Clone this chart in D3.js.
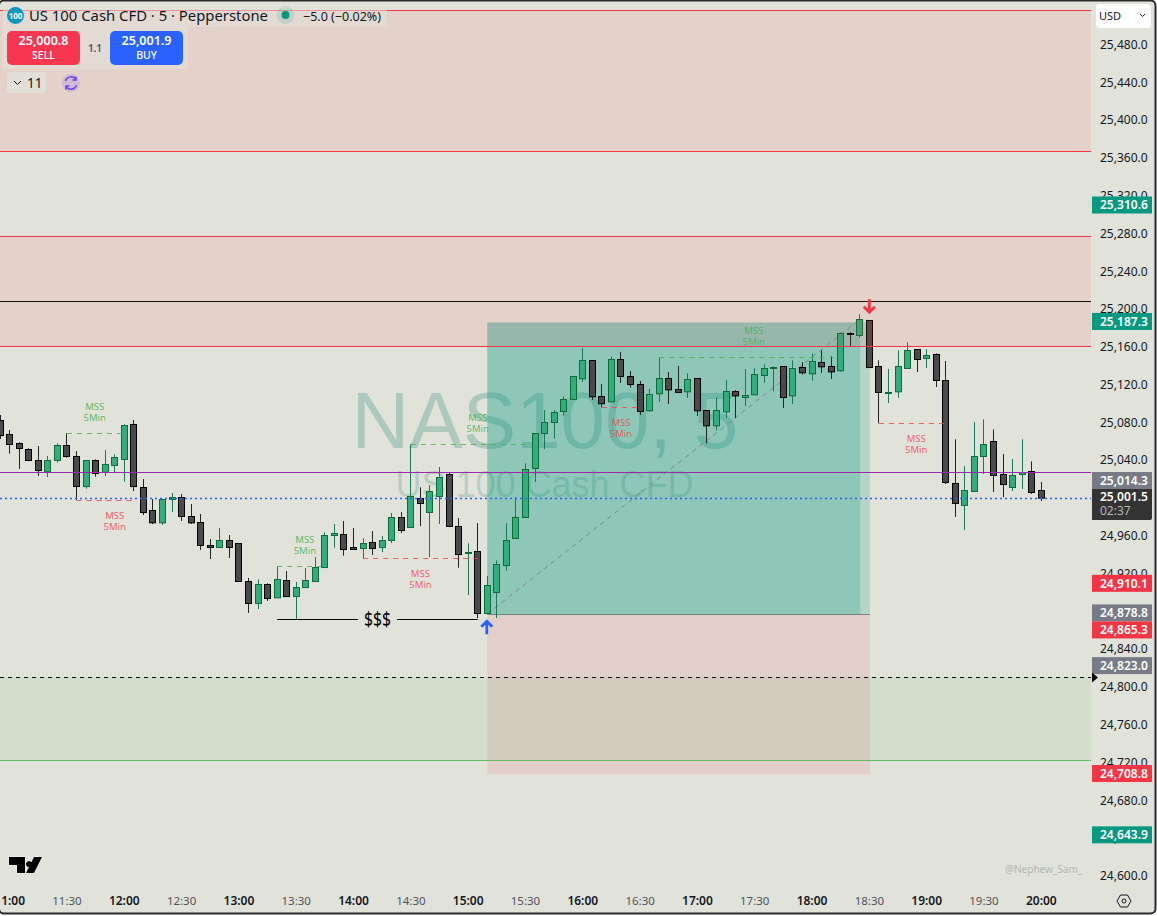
<!DOCTYPE html>
<html>
<head>
<meta charset="utf-8">
<title>NAS100 5</title>
<script src="https://cdn.jsdelivr.net/npm/d3@7/dist/d3.min.js"></script>
<style>
  body { margin: 0; background: #fff; }
  text { font-family: "Noto Sans", sans-serif; }
</style>
</head>
<body>
<div id="chart"></div>
<script>
// candles, one per 5 minutes, first bar is 10:55
var opens = [
  25083.7,25068.9,25059.4,25053.0,25041.4,25029.4,25041.4,25057.2,25045.6,25013.8,
  25041.4,25028.7,25036.1,25042.4,25079.5,25012.8,24988.4,24975.4,25000.1,25002.2,
  24982.1,24975.7,24951.4,24949.3,24956.7,24953.5,24913.3,24890.0,24910.1,24896.0,
  24914.4,24897.4,24906.9,24913.3,24928.1,24962.0,24963.0,24949.2,24948.2,24954.5,
  24949.2,24956.7,24981.0,24970.4,25001.1,24986.3,25003.2,25026.5,24971.5,24943.6,
  24945.0,24879.4,24901.6,24930.2,24958.8,24981.0,25032.9,25069.9,25081.6,25093.3,
  25106.0,25127.8,25147.2,25109.1,25103.5,25148.3,25130.3,25121.8,25094.0,25112.0,
  25128.2,25116.5,25114.1,25128.2,25094.3,25078.1,25092.9,25114.4,25108.1,25110.9,
  25131.4,25138.8,25140.9,25109.8,25139.8,25133.1,25145.1,25140.9,25136.3,25175.8,
  25173.7,25189.6,25140.9,25113.0,25114.1,25138.8,25158.9,25149.4,25153.6,25126.1,
  25017.0,24993.8,25008.6,25045.6,25061.5,25026.6,25012.8,25026.6,25029.7,25009.6];
var highs = [
  25089.4,25073.5,25060.4,25054.1,25056.5,25046.0,25059.4,25069.9,25051.2,25041.4,
  25042.4,25052.3,25047.7,25079.5,25084.1,25021.6,25000.4,25000.1,25006.8,25005.7,
  24995.1,24984.6,24958.1,24969.7,24962.3,24953.5,24916.8,24915.4,24911.2,24929.2,
  24924.2,24912.6,24927.4,24939.0,24965.2,24974.0,24977.1,24969.7,24958.8,24966.5,
  24961.2,24985.6,24986.7,25058.3,25012.8,25015.2,25034.3,25028.3,24980.3,24953.5,
  24975.0,24918.9,24935.5,24975.0,25002.2,25038.2,25069.9,25094.6,25094.7,25109.1,
  25130.3,25160.3,25147.2,25122.2,25151.1,25156.1,25135.9,25125.4,25116.9,25150.4,
  25134.9,25141.2,25133.5,25128.2,25094.3,25108.1,25126.4,25115.8,25138.1,25138.8,
  25143.0,25140.9,25140.9,25147.2,25145.1,25154.6,25157.8,25151.5,25176.9,25176.9,
  25195.9,25189.6,25147.2,25138.1,25157.8,25166.3,25158.9,25158.9,25154.6,25146.5,
  25063.6,25035.0,25082.0,25084.8,25074.2,25048.1,25042.8,25063.6,25040.3,25018.5];
var lows = [
  25063.9,25048.4,25032.2,25041.4,25024.8,25023.7,25038.9,25044.2,24999.4,25011.4,
  25024.1,25024.8,25028.7,25018.8,25008.9,24983.5,24974.0,24972.9,24986.7,24977.2,
  24974.0,24946.5,24936.9,24949.3,24938.0,24913.3,24879.8,24884.0,24892.5,24896.0,
  24897.1,24872.4,24906.9,24913.3,24928.1,24948.9,24940.4,24946.4,24937.6,24941.1,
  24944.3,24953.8,24964.4,24970.1,24971.8,24939.0,24973.9,24971.1,24927.7,24898.8,
  24874.4,24879.4,24874.4,24924.6,24958.1,24981.0,25018.4,25053.3,25064.3,25088.7,
  25105.3,25124.3,25105.3,25097.5,25103.5,25123.2,25118.3,25089.4,25092.9,25103.1,
  25101.0,25113.4,25107.4,25088.3,25059.4,25073.1,25086.2,25086.2,25098.9,25110.5,
  25123.2,25114.4,25096.8,25101.0,25132.1,25125.4,25133.8,25127.5,25135.2,25162.1,
  25171.6,25139.8,25080.6,25102.1,25107.4,25138.8,25134.9,25139.1,25119.0,25016.3,
  24981.4,24967.6,25008.6,25026.9,25007.9,25002.2,25008.9,25011.0,25005.8,24998.3];
var closes = [
  25067.8,25058.3,25054.1,25041.4,25030.8,25041.4,25057.2,25045.6,25013.8,25041.4,
  25027.6,25037.1,25044.5,25078.4,25013.8,24986.3,24975.4,25000.1,25002.2,24982.1,
  24975.4,24951.4,24949.3,24956.7,24949.3,24913.3,24890.0,24910.1,24895.3,24915.4,
  24897.4,24906.9,24914.4,24928.1,24962.0,24964.1,24947.1,24947.1,24953.5,24948.2,
  24956.7,24981.0,24967.2,25003.2,24995.8,25008.5,25023.3,24971.5,24941.8,24944.3,
  24879.4,24909.0,24931.3,24956.7,24981.0,25031.8,25069.9,25081.6,25092.2,25106.0,
  25130.3,25147.2,25108.8,25101.4,25148.3,25130.3,25121.8,25093.3,25111.2,25128.2,
  25116.2,25113.4,25127.1,25094.0,25078.1,25094.3,25114.4,25109.8,25110.2,25132.4,
  25138.8,25139.8,25108.1,25138.8,25134.2,25146.2,25140.5,25135.2,25175.8,25174.8,
  25190.6,25139.8,25113.4,25113.7,25140.9,25157.8,25148.3,25152.5,25126.1,25018.1,
  24995.9,25009.6,25045.6,25058.3,25025.5,25016.0,25025.5,25028.7,25007.5,25001.5];

// axis labels
var priceTicks = d3.range(24600, 25481, 40);
var timeLabels = ["11:00","11:30","12:00","12:30","13:00","13:30","14:00","14:30","15:00","15:30","16:00","16:30","17:00","17:30","18:00","18:30","19:00","19:30","20:00"];

// price levels drawn by hand on the chart
var redZones = [[25518, 25368.8], [25278.8, 25162.4]];
var greenZone = [24812, 24724];
var blackLevel = 25210;
var purpleLevel = 25028.5;
var lastPrice = 25001.5;

// long position: entry, target, stop, first bar, last bar, bar the target hit
var posEntry = 24878.8, posTarget = 25187.3, posStop = 24708.8;
var posStart = 51, posEnd = 91, posHit = 90;

// MSS markers
var mssStart = [7, 29, 43, 69, 8, 38, 63, 92];
var mssEnd = [13, 34, 55, 88, 14, 50, 67, 99];
var mssLabelBar = [9.9, 31.9, 50, 78.9, 12, 44, 65, 95.9];
var mssPrice = [25069.9, 24929.2, 25058.3, 25150.4, 24999.4, 24937.6, 25097.5, 25080.6];
var mssSide = ["up","up","up","up","down","down","down","down"];

// price scale labels
var tagPrices = [25310.6, 25187.3, 25014.3, 24910.1, 24878.8, 24865.3, 24823.0, 24708.8, 24643.9];
var tagKinds = ["g","g","s","r","s","r","s","r","g"];
var tagColors = { g: "#089981", r: "#f23645", s: "#787b86" };

var width = 1157, height = 916, plotRight = 1091, plotBottom = 888;

var x = d3.scaleLinear().domain([0, 109]).range([0.1, 1041.3]);
var y = d3.scaleLinear().domain([25480, 24600]).range([45.95, 877.3]);
var sharp = function(v) { return Math.floor(v) + 0.5; };
var sharpY = function(p) { return Math.round(y(p)) + 0.5; };

var svg = d3.select("#chart").append("svg").attr("width", width).attr("height", height).style("display", "block");
var defs = svg.append("defs");
defs.append("clipPath").attr("id", "plot").append("rect").attr("width", plotRight).attr("height", plotBottom);

// page colour inside the rounded window
svg.append("rect").attr("x", -1).attr("y", 0.5).attr("width", 1156.5).attr("height", 913).attr("rx", 5).attr("fill", "#e1e2da");

var plot = svg.append("g").attr("clip-path", "url(#plot)");

// watermark
plot.append("text").attr("x", 545).attr("y", 448).attr("text-anchor", "middle")
  .style("font-family", "Liberation Sans").style("font-size", "80px").attr("fill", "rgba(8,120,100,.24)").text("NAS100, 5");
plot.append("text").attr("x", 544.5).attr("y", 497).attr("text-anchor", "middle")
  .style("font-family", "Liberation Sans").style("font-size", "36px").attr("fill", "rgba(8,120,100,.2)").text("US 100 Cash CFD");

// position box
var boxLeft = x(posStart), boxRight = x(posEnd) + 0.5, hitRight = x(posHit) + 0.5;
plot.append("rect").attr("x", boxLeft).attr("width", boxRight - boxLeft)
  .attr("y", y(posEntry)).attr("height", y(posStop) - y(posEntry)).attr("fill", "rgba(242,54,69,.11)");
plot.append("rect").attr("x", boxLeft).attr("width", boxRight - boxLeft)
  .attr("y", y(posTarget)).attr("height", y(posEntry) - y(posTarget)).attr("fill", "rgba(8,153,129,.19)");
plot.append("rect").attr("x", boxLeft).attr("width", hitRight - boxLeft)
  .attr("y", y(posTarget)).attr("height", y(posEntry) - y(posTarget)).attr("fill", "rgba(8,153,129,.24)");
plot.append("line").attr("x1", boxLeft).attr("x2", boxRight).attr("y1", sharpY(posEntry)).attr("y2", sharpY(posEntry)).attr("stroke", "#74857f");
plot.append("line").attr("x1", boxLeft).attr("x2", x(posHit)).attr("y1", y(posEntry)).attr("y2", y(posTarget) - 3)
  .attr("stroke", "#7d8b86").attr("stroke-dasharray", "5 4");

// candles
var bars = d3.range(opens.length).map(function(i) {
  return { i: i, open: opens[i], high: highs[i], low: lows[i], close: closes[i] };
});
var candle = plot.selectAll("g.candle").data(bars).join("g").attr("class", "candle");
candle.append("line")
  .attr("x1", function(d) { return sharp(x(d.i)); })
  .attr("x2", function(d) { return sharp(x(d.i)); })
  .attr("y1", function(d) { return y(d.high); })
  .attr("y2", function(d) { return y(d.low); })
  .attr("stroke", function(d) { return d.close >= d.open ? "#17785a" : "#222222"; });
candle.append("rect")
  .attr("x", function(d) { return sharp(x(d.i)) - 3; })
  .attr("width", 6)
  .attr("y", function(d) { return sharpY(Math.max(d.open, d.close)); })
  .attr("height", function(d) { return Math.max(1, Math.abs(y(d.open) - y(d.close))); })
  .attr("fill", function(d) { return d.close >= d.open ? "#33ad7d" : "#4a4a4a"; })
  .attr("stroke", function(d) { return d.close >= d.open ? "#0e6b3a" : "#000000"; });

// zones sit over the candles
redZones.forEach(function(z) {
  plot.append("rect").attr("x", 0).attr("width", plotRight).attr("y", y(z[0])).attr("height", y(z[1]) - y(z[0])).attr("fill", "rgba(242,54,69,.1)");
  z.forEach(function(p) {
    plot.append("line").attr("x1", 0).attr("x2", plotRight).attr("y1", sharpY(p)).attr("y2", sharpY(p)).attr("stroke", "#f23645");
  });
});
plot.append("rect").attr("x", 0).attr("width", plotRight).attr("y", y(greenZone[0])).attr("height", y(greenZone[1]) - y(greenZone[0])).attr("fill", "rgba(76,175,80,.1)");
plot.append("line").attr("x1", 0).attr("x2", plotRight).attr("y1", sharpY(greenZone[1])).attr("y2", sharpY(greenZone[1])).attr("stroke", "#64c068");
plot.append("line").attr("x1", 0).attr("x2", plotRight).attr("y1", sharpY(greenZone[0])).attr("y2", sharpY(greenZone[0])).attr("stroke", "#000").attr("stroke-dasharray", "4 4");
plot.append("line").attr("x1", 0).attr("x2", plotRight).attr("y1", sharpY(blackLevel)).attr("y2", sharpY(blackLevel)).attr("stroke", "#111");
plot.append("line").attr("x1", 0).attr("x2", plotRight).attr("y1", sharpY(purpleLevel)).attr("y2", sharpY(purpleLevel)).attr("stroke", "#9c27b0");
plot.append("line").attr("x1", 0).attr("x2", plotRight).attr("y1", sharpY(lastPrice)).attr("y2", sharpY(lastPrice))
  .attr("stroke", "#2962ff").attr("stroke-dasharray", "2 3").attr("stroke-width", 1.5);

// MSS lines and labels
mssPrice.forEach(function(p, i) {
  var up = mssSide[i] == "up";
  var col = up ? "rgba(76,175,80,.85)" : "rgba(242,70,80,.85)";
  var x1 = x(mssStart[i]), x2 = x(mssEnd[i]), py = sharpY(p);
  plot.append("line").attr("x1", x1).attr("x2", x2).attr("y1", py).attr("y2", py).attr("stroke", col).attr("stroke-dasharray", "5 5");
  var tx = x(mssLabelBar[i]);
  var lines = up ? [py - 24, py - 13] : [py + 18, py + 29];
  plot.append("text").attr("x", tx).attr("y", lines[0]).attr("text-anchor", "middle").attr("fill", col).style("font-size", "9.5px").text("MSS");
  plot.append("text").attr("x", tx).attr("y", lines[1]).attr("text-anchor", "middle").attr("fill", col).style("font-size", "9.5px").text("5Min");
});

// liquidity line
var liq = sharpY(lows[31]) - 1;
plot.append("line").attr("x1", x(29)).attr("x2", x(50)).attr("y1", liq).attr("y2", liq).attr("stroke", "#000");
plot.append("rect").attr("x", 358).attr("y", liq - 10).attr("width", 39).attr("height", 20).attr("fill", "#e1e2da");
plot.append("text").attr("x", 377.5).attr("y", liq + 6.5).attr("text-anchor", "middle").attr("fill", "#000")
  .attr("textLength", 27).attr("lengthAdjust", "spacingAndGlyphs").style("font-size", "19px").text("$$$");

// entry and exit arrows
var arrow = function(cx, cy, dir, col) {
  plot.append("path").attr("fill", "none").attr("stroke", col).attr("stroke-width", 2.8)
    .attr("d", "M" + cx + "," + (cy - 7 * dir) + "V" + (cy + 6 * dir) + "M" + (cx - 5.5) + "," + (cy + 0.5 * dir) + "L" + cx + "," + (cy + 6 * dir) + "L" + (cx + 5.5) + "," + (cy + 0.5 * dir));
};
arrow(x(51) - 0.5, y(lows[51]) + 14, -1, "#2962ff");
arrow(x(91), y(highs[90]) - 8, 1, "#f23645");

// price axis
var axisG = svg.append("g").attr("transform", "translate(1100,-1.5)");
axisG.call(d3.axisRight(y).tickValues(priceTicks).tickSize(0).tickPadding(0).tickFormat(d3.format(",.1f")));
axisG.select(".domain").remove();
axisG.selectAll("text").attr("fill", "#131722").style("font-size", "12px").style("font-family", "Noto Sans");

// price tags, pushed apart where they would overlap
var tagH = 17;
var tagY = tagPrices.map(function(p) { return y(p) - 1; });
tagY[2] = Math.min(tagY[2], 489 - tagH / 2);
for (var t = 1; t < tagY.length; t++) {
  if (t != 3 && tagY[t] - tagY[t - 1] < tagH) tagY[t] = tagY[t - 1] + tagH;
}
tagPrices.forEach(function(p, i) {
  svg.append("rect").attr("x", 1092).attr("y", tagY[i] - tagH / 2).attr("width", 60).attr("height", tagH).attr("fill", tagColors[tagKinds[i]]);
  svg.append("text").attr("x", 1100).attr("y", tagY[i] + 4.5).attr("fill", "#fff").style("font-size", "12px").style("font-weight", "600").text(d3.format(",.1f")(p));
});
svg.append("path").attr("d", "M1092,489h60v29a2,2 0 0,1 -2,2h-58z").attr("fill", "#333333");
svg.append("text").attr("x", 1100).attr("y", 501).attr("fill", "#fff").style("font-size", "12px").style("font-weight", "600").text(d3.format(",.1f")(lastPrice));
svg.append("text").attr("x", 1100).attr("y", 515).attr("fill", "#b8b8b8").style("font-size", "12px").text("02:37");
svg.append("path").attr("d", "M1092," + (sharpY(greenZone[0]) - 5) + "l6,5l-6,5z").attr("fill", "#000");

// time axis
var timeBars = timeLabels.map(function(d, i) { return 1 + i * 6; });
var timeG = svg.append("g").attr("clip-path", "url(#plotTime)");
defs.append("clipPath").attr("id", "plotTime").append("rect").attr("x", 1).attr("y", 888).attr("width", 1091).attr("height", 26);
timeG.selectAll("text").data(timeLabels).join("text")
  .attr("x", function(d, i) { return x(timeBars[i]); })
  .attr("y", 905).attr("text-anchor", "middle")
  .attr("fill", function(d) { return d.slice(-2) == "00" ? "#131722" : "#50535e"; })
  .style("font-size", function(d) { return d.slice(-2) == "00" ? "12px" : "11.5px"; })
  .style("font-weight", function(d) { return d.slice(-2) == "00" ? "600" : "normal"; })
  .text(function(d) { return d; });

// settings gear on the corner
svg.append("path").attr("d", "M1117,901l3.5,-6h7l3.5,6l-3.5,6h-7z").attr("fill", "none").attr("stroke", "#131722");
svg.append("circle").attr("cx", 1124).attr("cy", 901).attr("r", 2).attr("fill", "none").attr("stroke", "#131722");

// tv logo and signature
svg.append("path").attr("d", "M9,857h16v16h-8v-8h-8zM34,857h8l-8,16h-8zM29,861a3,3 0 1,1 -0.01,0z").attr("fill", "#000").attr("stroke", "#fff").attr("stroke-width", 0.8).attr("paint-order", "stroke");
svg.append("text").attr("x", 1005).attr("y", 872.5).attr("fill", "#b4b7b2").style("font-size", "10px").text("@Nephew_Sam_");

// legend block on the top left
svg.append("rect").attr("x", 3).attr("y", 5).attr("width", 384).attr("height", 22).attr("fill", "rgba(225,226,218,.55)");
svg.append("rect").attr("x", 2).attr("y", 27).attr("width", 186).attr("height", 42).attr("fill", "rgba(225,226,218,.55)");
svg.append("circle").attr("cx", 15.5).attr("cy", 15.5).attr("r", 8.5).attr("fill", "#0e96bd");
svg.append("text").attr("x", 15.5).attr("y", 18.5).attr("text-anchor", "middle").attr("fill", "#fff").style("font-size", "8px").style("font-weight", "bold").text("100");
svg.append("text").attr("x", 29).attr("y", 20.5).attr("fill", "#131722").attr("textLength", 239).attr("lengthAdjust", "spacingAndGlyphs").style("font-size", "14px").text("US 100 Cash CFD · 5 · Pepperstone");
svg.append("circle").attr("cx", 285.5).attr("cy", 15).attr("r", 9).attr("fill", "rgba(8,153,129,.14)");
svg.append("circle").attr("cx", 285.5).attr("cy", 15).attr("r", 4).attr("fill", "#089981");
svg.append("text").attr("x", 303).attr("y", 20.5).attr("fill", "#131722").attr("textLength", 78).attr("lengthAdjust", "spacingAndGlyphs").style("font-size", "13px").text("−5.0 (−0.02%)");

var buttons = [["25,000.8", "SELL", 7, "#f7374f"], ["25,001.9", "BUY", 110, "#2962ff"]];
buttons.forEach(function(b) {
  svg.append("rect").attr("x", b[2]).attr("y", 31).attr("width", 73).attr("height", 34).attr("rx", 5).attr("fill", b[3]);
  svg.append("text").attr("x", b[2] + 36.5).attr("y", 45).attr("text-anchor", "middle").attr("fill", "#fff").style("font-size", "12.5px").style("font-weight", "600").text(b[0]);
  svg.append("text").attr("x", b[2] + 36.5).attr("y", 59).attr("text-anchor", "middle").attr("fill", "#fff").style("font-size", "10.5px").style("font-weight", "500").text(b[1]);
});
svg.append("text").attr("x", 95).attr("y", 52).attr("text-anchor", "middle").attr("fill", "#50535e").style("font-size", "10px").style("font-weight", "600").text("1.1");

svg.append("rect").attr("x", 7).attr("y", 72).attr("width", 39).attr("height", 21).attr("rx", 3).attr("fill", "#e2dfd8");
svg.append("path").attr("d", "M14,81l3.5,3.5l3.5,-3.5").attr("fill", "none").attr("stroke", "#131722");
svg.append("text").attr("x", 27).attr("y", 87.5).attr("fill", "#131722").style("font-size", "13.5px").text("11");
svg.append("circle").attr("cx", 71).attr("cy", 83).attr("r", 9).attr("fill", "rgba(124,77,255,.18)");
svg.append("path").attr("d", "M65.5,81a5.8,5.8 0 0,1 10.5,-1.5M76.5,85a5.8,5.8 0 0,1 -10.5,1.5M76,76.5v3.5h-3.5M66,89.5v-3.5h3.5").attr("fill", "none").attr("stroke", "#6a3df0").attr("stroke-width", 1.4);

// currency button
svg.append("rect").attr("x", 1096).attr("y", 4).attr("width", 55).attr("height", 24).attr("rx", 4).attr("fill", "#fff");
svg.append("text").attr("x", 1099).attr("y", 20).attr("fill", "#131722").style("font-size", "11px").text("USD");
svg.append("path").attr("d", "M1140,14l2.5,2.5l2.5,-2.5").attr("fill", "none").attr("stroke", "#131722");

// frame
svg.append("rect").attr("x", -1).attr("y", 0.5).attr("width", 1156.5).attr("height", 913).attr("rx", 5).attr("fill", "none").attr("stroke", "#2a2a2a").attr("stroke-width", 2);
</script>
</body>
</html>
